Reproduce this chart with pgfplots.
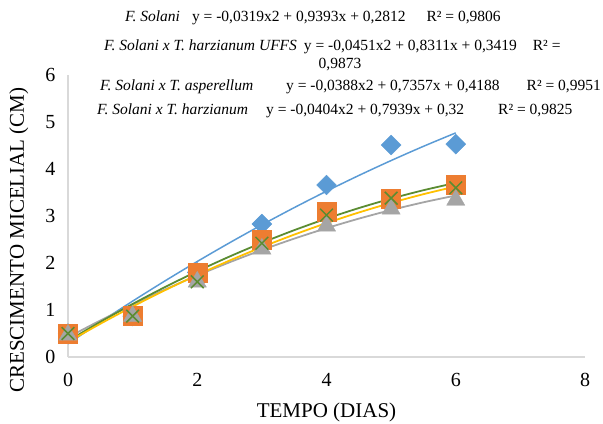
\documentclass[border=0pt]{standalone}
\usepackage{pgfplots}
\pgfplotsset{compat=1.18}
\usepackage{fontspec}
\setmainfont{Liberation Serif}
\definecolor{cblue}{HTML}{5B9BD5}
\definecolor{corange}{HTML}{ED7D31}
\definecolor{cgray}{HTML}{A5A5A5}
\definecolor{cyellow}{HTML}{FFC000}
\definecolor{cgreen}{HTML}{5B8C32}
\definecolor{caxis}{HTML}{D9D9D9}
\newcommand{\ann}{\fontsize{15.5bp}{18bp}\selectfont}
\begin{document}
\begin{tikzpicture}[x=1bp,y=1bp]
\path[use as bounding box] (-68,-66) rectangle (535,357);
\begin{axis}[
  at={(0,0)}, anchor=south west,
  scale only axis, width=517bp, height=282bp,
  xmin=0, xmax=8, ymin=0, ymax=6,
  xtick={0,2,4,6,8}, ytick={0,1,2,3,4,5,6},
  axis x line=bottom, axis y line=left,
  axis line style={-, draw=caxis, line width=1.3pt},
  major tick length=0pt,
  /pgf/number format/assume math mode=true,
  tick label style={font=\fontsize{20bp}{22bp}\selectfont},
  xticklabel style={yshift=-13bp},
  yticklabel style={xshift=-9bp},
  xlabel={TEMPO (DIAS)},
  ylabel={CRESCIMENTO MICELIAL (CM)},
  label style={font=\fontsize{21bp}{23bp}\selectfont},
  xlabel style={at={(axis description cs:0.5,-0.195)}, anchor=center},
  ylabel style={at={(axis description cs:-0.095,0.415)}, anchor=center, rotate=0},
  clip=false,
]
% data points
\addplot[only marks, mark=square*, mark size=7bp, mark options={rotate=45, fill=cblue, draw=cblue}]
  coordinates {(0,0.5) (1,0.87) (2,1.8) (3,2.83) (4,3.66) (5,4.51) (6,4.53)};
\addplot[only marks, mark=square*, mark size=9.5bp, mark options={fill=corange, draw=corange}]
  coordinates {(0,0.5) (1,0.87) (2,1.8) (3,2.49) (4,3.1) (5,3.36) (6,3.66)};
\addplot[only marks, mark=triangle*, mark size=10.5bp, mark options={fill=cgray, draw=cgray}]
  coordinates {(0,0.47) (1,0.87) (2,1.6) (3,2.3) (4,2.79) (5,3.15) (6,3.34)};
\addplot[only marks, mark=x, mark size=9bp, mark options={draw=cgreen, line width=1.5pt}]
  coordinates {(0,0.5) (1,0.87) (2,1.6) (3,2.42) (4,3.02) (5,3.38) (6,3.6)};
% trendlines (values from the printed equations)
\addplot[cblue, line width=1.5pt, smooth, no marks] coordinates {
 (0,0.2812) (0.5,0.7429) (1,1.1886) (1.5,1.6184) (2,2.0322) (2.5,2.4301) (3,2.8120)
 (3.5,3.1780) (4,3.5280) (4.5,3.8621) (5,4.1802) (5.5,4.4824) (6,4.7686)};
\addplot[cgray, line width=1.8pt, smooth, no marks] coordinates {
 (0,0.4188) (0.5,0.7770) (1,1.1157) (1.5,1.4351) (2,1.7350) (2.5,2.0156) (3,2.2767)
 (3.5,2.5185) (4,2.7408) (4.5,2.9438) (5,3.1273) (5.5,3.2915) (6,3.4362)};
\addplot[cgreen, line width=1.8pt, smooth, no marks] coordinates {
 (0,0.3419) (0.5,0.7462) (1,1.1279) (1.5,1.4871) (2,1.8237) (2.5,2.1378) (3,2.4293)
 (3.5,2.6983) (4,2.9447) (4.5,3.1686) (5,3.3699) (5.5,3.5487) (6,3.7049)};
\addplot[cyellow, line width=1.8pt, smooth, no marks] coordinates {
 (0,0.3200) (0.5,0.7069) (1,1.0735) (1.5,1.4200) (2,1.7462) (2.5,2.0523) (3,2.3381)
 (3.5,2.6038) (4,2.8492) (4.5,3.0745) (5,3.2795) (5.5,3.4643) (6,3.6290)};
\end{axis}
% trendline labels
\node[anchor=west, inner sep=0pt, font=\ann] at (57,339)
  {\textit{F. Solani}\hspace{12bp}y = -0,0319x2 + 0,9393x + 0,2812\hspace{21bp}R² = 0,9806};
\node[anchor=west, inner sep=0pt, font=\ann] at (36,310)
  {\textit{F. Solani x T. harzianum UFFS}\hspace{7bp}y = -0,0451x2 + 0,8311x + 0,3419\hspace{16bp}R² =};
\node[anchor=center, inner sep=0pt, font=\ann] at (272,292) {0,9873};
\node[anchor=west, inner sep=0pt, font=\ann] at (32,270)
  {\textit{F. Solani x T. asperellum}\hspace{33bp}y = -0,0388x2 + 0,7357x + 0,4188\hspace{27bp}R² = 0,9951};
\node[anchor=west, inner sep=0pt, font=\ann] at (29,246)
  {\textit{F. Solani x T. harzianum}\hspace{18bp}y = -0,0404x2 + 0,7939x + 0,32\hspace{34bp}R² = 0,9825};
\end{tikzpicture}
\end{document}
